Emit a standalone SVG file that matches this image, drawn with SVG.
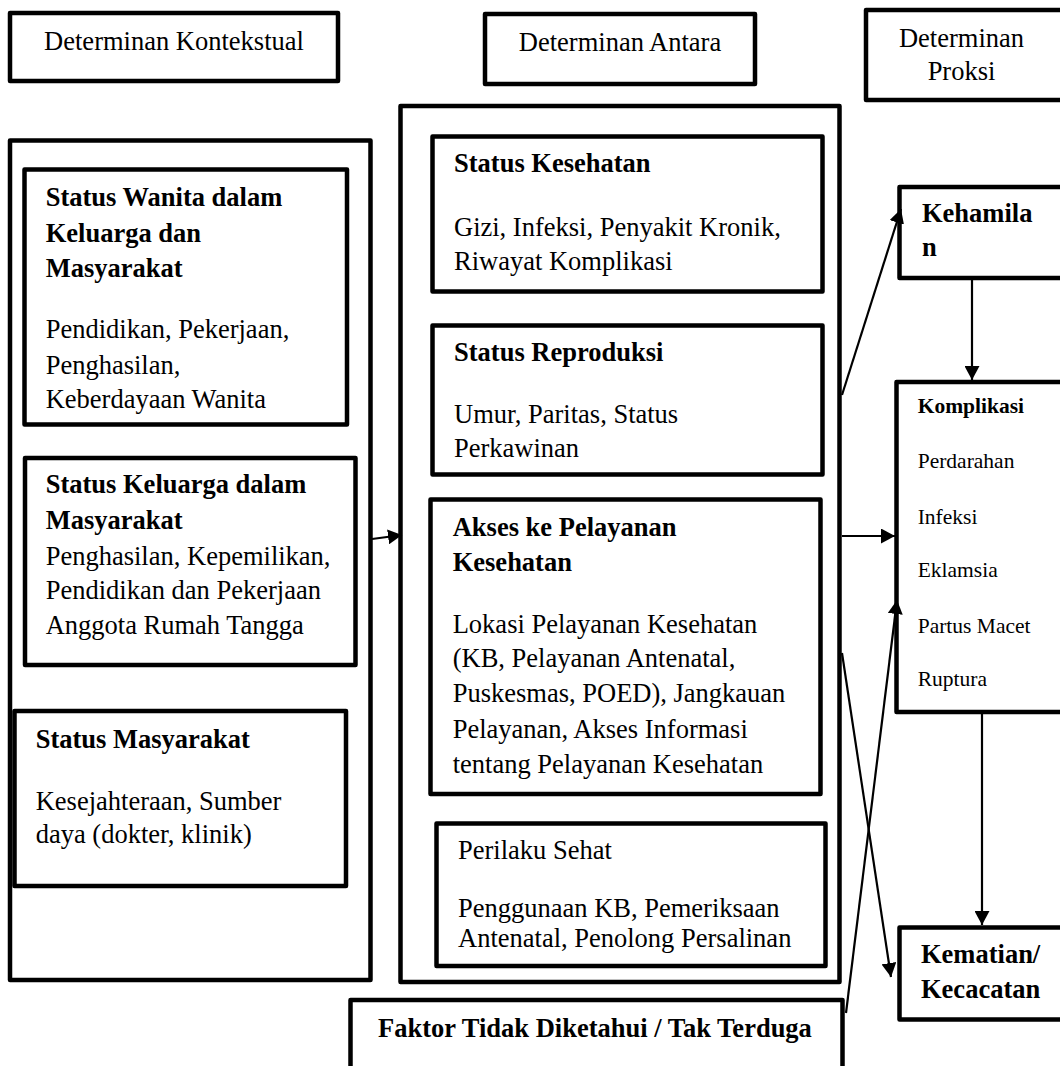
<svg xmlns="http://www.w3.org/2000/svg" width="1060" height="1066" viewBox="0 0 1060 1066">
<style>
.box{fill:#fff;stroke:#000;stroke-width:4.5;stroke-linejoin:round}
.frame{fill:none;stroke:#000;stroke-width:4.5;stroke-linejoin:round}
text{font-family:"Liberation Serif","Times New Roman",serif;font-size:26.5px;fill:#000}
.b{font-weight:bold}
.s{font-size:21.5px}
.c{text-anchor:middle}
.con{stroke:#000;stroke-width:2.2;fill:none;marker-end:url(#ah)}
</style>
<defs>
<marker id="ah" markerUnits="userSpaceOnUse" markerWidth="15" markerHeight="15" refX="14" refY="7.5" orient="auto">
<path d="M0,0 L14,7.5 L0,15 z" fill="#000"/>
</marker>
</defs>
<rect width="1060" height="1066" fill="#fff"/>

<g id="hdr-kontekstual">
<rect class="box" x="10" y="13" width="328" height="68"/>
<text class="c" x="174" y="50">Determinan Kontekstual</text>
</g>
<g id="hdr-antara">
<rect class="box" x="485" y="14" width="270" height="70"/>
<text class="c" x="620" y="51">Determinan Antara</text>
</g>
<g id="hdr-proksi">
<rect class="box" x="866" y="10" width="210" height="90"/>
<text class="c" x="961.5" y="47">Determinan</text>
<text class="c" x="961.5" y="80">Proksi</text>
</g>

<g id="kontekstual">
<rect class="frame" x="10" y="140.5" width="360.5" height="839.5"/>
</g>
<g id="status-wanita">
<rect class="box" x="24.5" y="169.5" width="322.5" height="255"/>
<text class="b" x="45.7" y="206">Status Wanita dalam</text>
<text class="b" x="45.7" y="241.7">Keluarga dan</text>
<text class="b" x="45.7" y="276.7">Masyarakat</text>
<text x="45.7" y="338">Pendidikan, Pekerjaan,</text>
<text x="45.7" y="374">Penghasilan,</text>
<text x="45.7" y="408">Keberdayaan Wanita</text>
</g>
<g id="status-keluarga">
<rect class="box" x="25" y="458" width="330.5" height="207"/>
<text class="b" x="45.7" y="493">Status Keluarga dalam</text>
<text class="b" x="45.7" y="529">Masyarakat</text>
<text x="45.7" y="565">Penghasilan, Kepemilikan,</text>
<text x="45.7" y="599">Pendidikan dan Pekerjaan</text>
<text x="45.7" y="634">Anggota Rumah Tangga</text>
</g>
<g id="status-masyarakat">
<rect class="box" x="14.5" y="711" width="331.5" height="175"/>
<text class="b" x="35.7" y="748">Status Masyarakat</text>
<text x="35.7" y="810">Kesejahteraan, Sumber</text>
<text x="35.7" y="843">daya (dokter, klinik)</text>
</g>

<g id="antara">
<rect class="frame" x="400.5" y="106" width="439" height="876"/>
</g>
<g id="status-kesehatan">
<rect class="box" x="432.5" y="136.5" width="390" height="155"/>
<text class="b" x="454" y="171.7">Status Kesehatan</text>
<text x="454" y="235.7">Gizi, Infeksi, Penyakit Kronik,</text>
<text x="454" y="270">Riwayat Komplikasi</text>
</g>
<g id="status-reproduksi">
<rect class="box" x="432.5" y="325.5" width="390" height="149"/>
<text class="b" x="454" y="360.7">Status Reproduksi</text>
<text x="454" y="423">Umur, Paritas, Status</text>
<text x="454" y="456.7">Perkawinan</text>
</g>
<g id="akses">
<rect class="box" x="430.5" y="499.5" width="390" height="294.5"/>
<text class="b" x="452.7" y="536">Akses ke Pelayanan</text>
<text class="b" x="452.7" y="571">Kesehatan</text>
<text x="452.7" y="633">Lokasi Pelayanan Kesehatan</text>
<text x="452.7" y="667">(KB, Pelayanan Antenatal,</text>
<text x="452.7" y="702">Puskesmas, POED), Jangkauan</text>
<text x="452.7" y="738">Pelayanan, Akses Informasi</text>
<text x="452.7" y="772.6">tentang Pelayanan Kesehatan</text>
</g>
<g id="perilaku">
<rect class="box" x="436.5" y="823.5" width="389" height="142.5"/>
<text x="458" y="859">Perilaku Sehat</text>
<text x="458" y="916.5">Penggunaan KB, Pemeriksaan</text>
<text x="458" y="947">Antenatal, Penolong Persalinan</text>
</g>

<g id="faktor">
<rect class="box" x="350.5" y="1000" width="492" height="100"/>
<text class="b c" x="595" y="1037">Faktor Tidak Diketahui / Tak Terduga</text>
</g>

<g id="kehamilan">
<rect class="box" x="899.5" y="187" width="200" height="91"/>
<text class="b" x="922" y="222">Kehamila</text>
<text class="b" x="922" y="256">n</text>
</g>
<g id="komplikasi">
<rect class="box" x="896.5" y="382" width="200" height="330"/>
<text class="b s" x="917.7" y="413">Komplikasi</text>
<text class="s" x="917.7" y="468">Perdarahan</text>
<text class="s" x="917.7" y="523.6">Infeksi</text>
<text class="s" x="917.7" y="577">Eklamsia</text>
<text class="s" x="917.7" y="632.5">Partus Macet</text>
<text class="s" x="917.7" y="686">Ruptura</text>
</g>
<g id="kematian">
<rect class="box" x="899.5" y="927.5" width="200" height="92"/>
<text class="b" x="921" y="963">Kematian/</text>
<text class="b" x="921" y="998">Kecacatan</text>
</g>

<g id="connectors">
<line class="con" x1="372" y1="539" x2="402" y2="535"/>
<line class="con" x1="842" y1="395" x2="901" y2="209"/>
<line class="con" x1="972" y1="280" x2="972" y2="380"/>
<line class="con" x1="842" y1="536" x2="895" y2="536"/>
<line class="con" x1="842" y1="653" x2="891" y2="977"/>
<line class="con" x1="846" y1="1013" x2="897" y2="600"/>
<line class="con" x1="982" y1="714" x2="982" y2="925"/>
</g>
</svg>
